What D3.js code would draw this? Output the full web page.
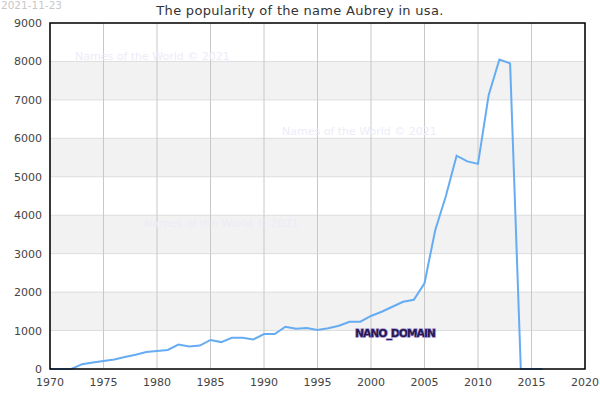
<!DOCTYPE html>
<html><head><meta charset="utf-8">
<script src="https://cdn.jsdelivr.net/npm/d3@7"></script>
<style>body{margin:0;background:#fff}svg{display:block;font-family:"DejaVu Sans",sans-serif}</style>
</head><body>
<svg id="c" width="600" height="400"></svg>
<script>
const years = [1970,1971,1972,1973,1974,1975,1976,1977,1978,1979,1980,1981,1982,1983,1984,1985,1986,1987,1988,1989,1990,1991,1992,1993,1994,1995,1996,1997,1998,1999,2000,2001,2002,2003,2004,2005,2006,2007,2008,2009,2010,2011,2012,2013,2014,2015,2016];
const counts = [0,0,0,125,170,210,245,310,370,440,470,495,635,585,610,755,700,810,810,770,910,910,1100,1045,1065,1015,1060,1125,1230,1230,1380,1490,1620,1750,1800,2230,3610,4500,5550,5400,5335,7130,8050,7950,0,0,0];
const xTicks = [1970,1975,1980,1985,1990,1995,2000,2005,2010,2015,2020];
const yTicks = [0,1000,2000,3000,4000,5000,6000,7000,8000,9000];
const bands = [[1000,2000],[3000,4000],[5000,6000],[7000,8000]];
const title = "The popularity of the name Aubrey in usa.";
const dateLabel = "2021-11-23";
const watermark = "Names of the World © 2021";

const svg = d3.select("#c");
const L=50,R=585,T=23,B=369;
const x = d3.scaleLinear().domain([1970,2020]).range([L,R]);
const y = d3.scaleLinear().domain([0,9000]).range([B,T]);

svg.selectAll("rect.band").data(bands).join("rect")
  .attr("x",L).attr("width",R-L).attr("y",d=>y(d[1])).attr("height",d=>y(d[0])-y(d[1])).attr("fill","#f2f2f2");
svg.selectAll("line.hg").data(yTicks).join("line")
  .attr("x1",L).attr("x2",R).attr("y1",d=>y(d)).attr("y2",d=>y(d)).attr("stroke","#dddddd");
svg.selectAll("line.vg").data(xTicks).join("line")
  .attr("y1",T).attr("y2",B).attr("x1",d=>x(d)).attr("x2",d=>x(d)).attr("stroke","#c8c8c8");

// watermarks
const wm = [[75,60],[282,135],[144,227]];
svg.selectAll("text.wm").data(wm).join("text").attr("x",d=>d[0]).attr("y",d=>d[1])
  .attr("font-size",11).attr("fill","#ececf8").text(watermark);

const line = d3.line().x((d,i)=>x(years[i])).y(d=>y(d));
svg.append("path").datum(counts).attr("d",line).attr("fill","none").attr("stroke","#66acf2").attr("stroke-width",2);

svg.append("rect").attr("x",L).attr("y",T).attr("width",R-L).attr("height",B-T).attr("fill","none").attr("stroke","#000").attr("stroke-width",1.5);

svg.append("g").selectAll("text").data(yTicks).join("text")
  .attr("x",42).attr("y",d=>y(d)+4).attr("text-anchor","end").attr("font-size",11).attr("fill","#444").text(d=>d);
svg.append("g").selectAll("text").data(xTicks).join("text")
  .attr("x",d=>x(d)).attr("y",386).attr("text-anchor","middle").attr("font-size",11).attr("fill","#444").text(d=>d);

svg.append("text").attr("x",300).attr("y",15).attr("text-anchor","middle").attr("font-size",13).attr("letter-spacing",0.3).attr("fill","#333").text(title);
svg.append("text").attr("x",1).attr("y",9).attr("font-size",10.5).attr("fill","#c8c8c8").text(dateLabel);

svg.append("text").attr("x",355).attr("y",337).attr("font-size",11).attr("font-weight","bold")
  .attr("fill","#2a1850").attr("stroke","#a090cc").attr("stroke-width",1.4).attr("paint-order","stroke").attr("textLength",81).text("NANO_DOMAIN");
</script>
</body></html>
